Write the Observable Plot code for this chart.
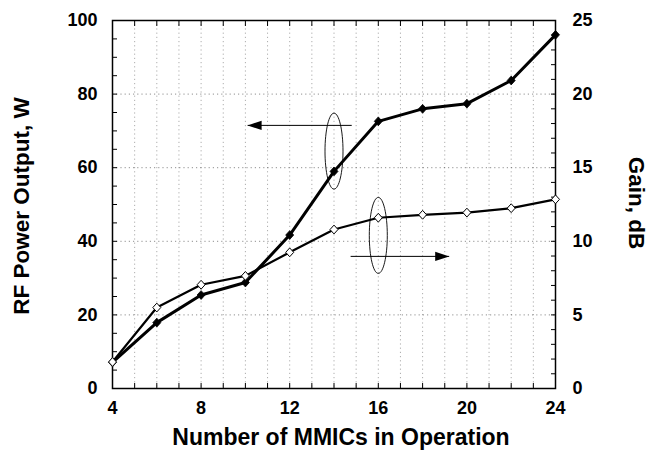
<!DOCTYPE html>
<html><head><meta charset="utf-8">
<script src="https://cdn.jsdelivr.net/npm/d3@7"></script>
<script src="https://cdn.jsdelivr.net/npm/@observablehq/plot@0.6"></script>
<style>body{margin:0;background:#fff}</style>
</head><body><div id="chart"></div>
<script>
// ---- data ----
const mmics  = [4, 6, 8, 10, 12, 14, 16, 18, 20, 22, 24];
const powerW = [7.1, 17.9, 25.4, 28.8, 41.7, 59.0, 72.6, 76.0, 77.4, 83.7, 96.1];
const gainDB = [1.8, 5.5, 7.05, 7.65, 9.25, 10.8, 11.6, 11.8, 11.95, 12.25, 12.85];

const xTicks = [4, 8, 12, 16, 20, 24];
const leftTicks = [0, 20, 40, 60, 80, 100];
const rightTicks = [0, 5, 10, 15, 20, 25];

const xTitle = ["Number of MMICs in Operation"];
const leftTitle = ["RF Power Output, W"];
const rightTitle = ["Gain, dB"];

// annotation anchors (x in MMICs, y in left-axis units)
const ellipseX = [14, 16];
const ellipseY = [64.5, 41.6];
const arrowX1 = [14.8, 14.75];
const arrowX2 = [10.1, 19.2];
const arrowY  = [71.5, 35.9];

const GAIN_TO_LEFT = 100 / 25; // right axis 0–25 dB maps onto left 0–100 W

const data = mmics.map((m, i) => ({m, power: powerW[i], gain: gainDB[i] * GAIN_TO_LEFT}));
const ellipses = ellipseX.map((x, i) => ({x, y: ellipseY[i]}));
const arrows = arrowX1.map((x1, i) => ({x1, x2: arrowX2[i], y: arrowY[i]}));

// custom symbols
const ellipseSym = {draw(ctx) {
  const rx = 9, ry = 38, k = 0.5523;
  ctx.moveTo(rx, 0);
  ctx.bezierCurveTo(rx, ry * k, rx * k, ry, 0, ry);
  ctx.bezierCurveTo(-rx * k, ry, -rx, ry * k, -rx, 0);
  ctx.bezierCurveTo(-rx, -ry * k, -rx * k, -ry, 0, -ry);
  ctx.bezierCurveTo(rx * k, -ry, rx, -ry * k, rx, 0);
  ctx.closePath();
}};
const headSym = {draw(ctx) {
  const L = 14, w = 4.6;
  ctx.moveTo(0, 0); ctx.lineTo(-L, -w); ctx.lineTo(-L, w); ctx.closePath();
}};
const diamondSym = {draw(ctx) {
  const a = 4, b = 4.4;
  ctx.moveTo(0, -b); ctx.lineTo(a, 0); ctx.lineTo(0, b); ctx.lineTo(-a, 0); ctx.closePath();
}};

const grid = {stroke: "#333", strokeOpacity: 0.55, strokeDasharray: "1.2,3"};
const tickFont = 18;

const chart = Plot.plot({
  width: 650, height: 464,
  marginLeft: 112, marginRight: 95, marginTop: 20, marginBottom: 76,
  x: {domain: [4, 24], label: null},
  y: {domain: [0, 100], label: null},
  style: {fontFamily: "'Liberation Sans', Arial, Helvetica, sans-serif", fontWeight: "bold", color: "#000", background: "#fff"},
  marks: [
    Plot.gridX(d3.range(5, 24), {...grid, strokeOpacity: 0.4}),
    Plot.gridY([20, 40, 60, 80], grid),
    // inward minor ticks
    Plot.axisX(d3.range(4, 25), {anchor: "bottom", tickSize: -5, tickFormat: () => "", label: null}),
    Plot.axisX(d3.range(4, 25), {anchor: "top", tickSize: -5, tickFormat: () => "", label: null}),
    Plot.axisY(d3.range(0, 101, 5), {anchor: "left", tickSize: -5, tickFormat: () => "", label: null}),
    Plot.axisY(d3.range(0, 101, GAIN_TO_LEFT), {anchor: "right", tickSize: -5, tickFormat: () => "", label: null}),
    // labelled axes
    Plot.axisX(xTicks, {anchor: "bottom", tickSize: 0, tickPadding: 13, fontSize: tickFont, label: null}),
    Plot.axisY(leftTicks, {anchor: "left", tickSize: 0, tickPadding: 15, fontSize: tickFont, label: null}),
    Plot.axisY(rightTicks.map(v => v * GAIN_TO_LEFT), {anchor: "right", tickSize: 0, tickPadding: 17, fontSize: tickFont, tickFormat: d => d / GAIN_TO_LEFT, label: null}),
    Plot.frame({stroke: "#000", strokeWidth: 1.5}),
    // titles
    Plot.text(xTitle, {text: d => d, frameAnchor: "bottom", textAnchor: "middle", dy: 56, dx: 7, fontSize: 23, fontWeight: "bold"}),
    Plot.text(leftTitle, {ariaLabel: "left-title", text: d => d, frameAnchor: "left", textAnchor: "middle", rotate: -90, dx: -91, dy: 1.5, fontSize: 22.5, fontWeight: "bold"}),
    Plot.text(rightTitle, {ariaLabel: "right-title", text: d => d, frameAnchor: "right", textAnchor: "middle", rotate: 90, dx: 81, dy: -1.5, fontSize: 22.5, fontWeight: "bold"}),
    // annotations
    Plot.dot(ellipses, {x: "x", y: "y", symbol: ellipseSym, r: 5, stroke: "#000", strokeWidth: 0.9, fill: "none"}),
    Plot.link(arrows, {x1: "x1", x2: "x2", y1: "y", y2: "y", stroke: "#000", strokeWidth: 1}),
    Plot.dot(arrows, {x: "x2", y: "y", symbol: headSym, r: 5, fill: "#000", stroke: "none", rotate: d => d.x2 < d.x1 ? 180 : 0}),
    // series
    Plot.line(data, {x: "m", y: "gain", stroke: "#000", strokeWidth: 2.2}),
    Plot.line(data, {x: "m", y: "power", stroke: "#000", strokeWidth: 3}),
    Plot.dot(data, {x: "m", y: "power", symbol: diamondSym, r: 5, fill: "#000", stroke: "#000", strokeWidth: 0.8}),
    Plot.dot(data, {x: "m", y: "gain", symbol: diamondSym, r: 5, fill: "#fff", stroke: "#000", strokeWidth: 1})
  ]
});
// the reference's vertical titles have taller glyphs than their length suggests
for (const label of ["left-title", "right-title"]) {
  chart.querySelectorAll(`g[aria-label="${label}"] text`).forEach(t => {
    t.setAttribute("transform", (t.getAttribute("transform") || "") + " scale(1,1.3)");
  });
}
document.getElementById("chart").append(chart);
</script>
</body></html>
